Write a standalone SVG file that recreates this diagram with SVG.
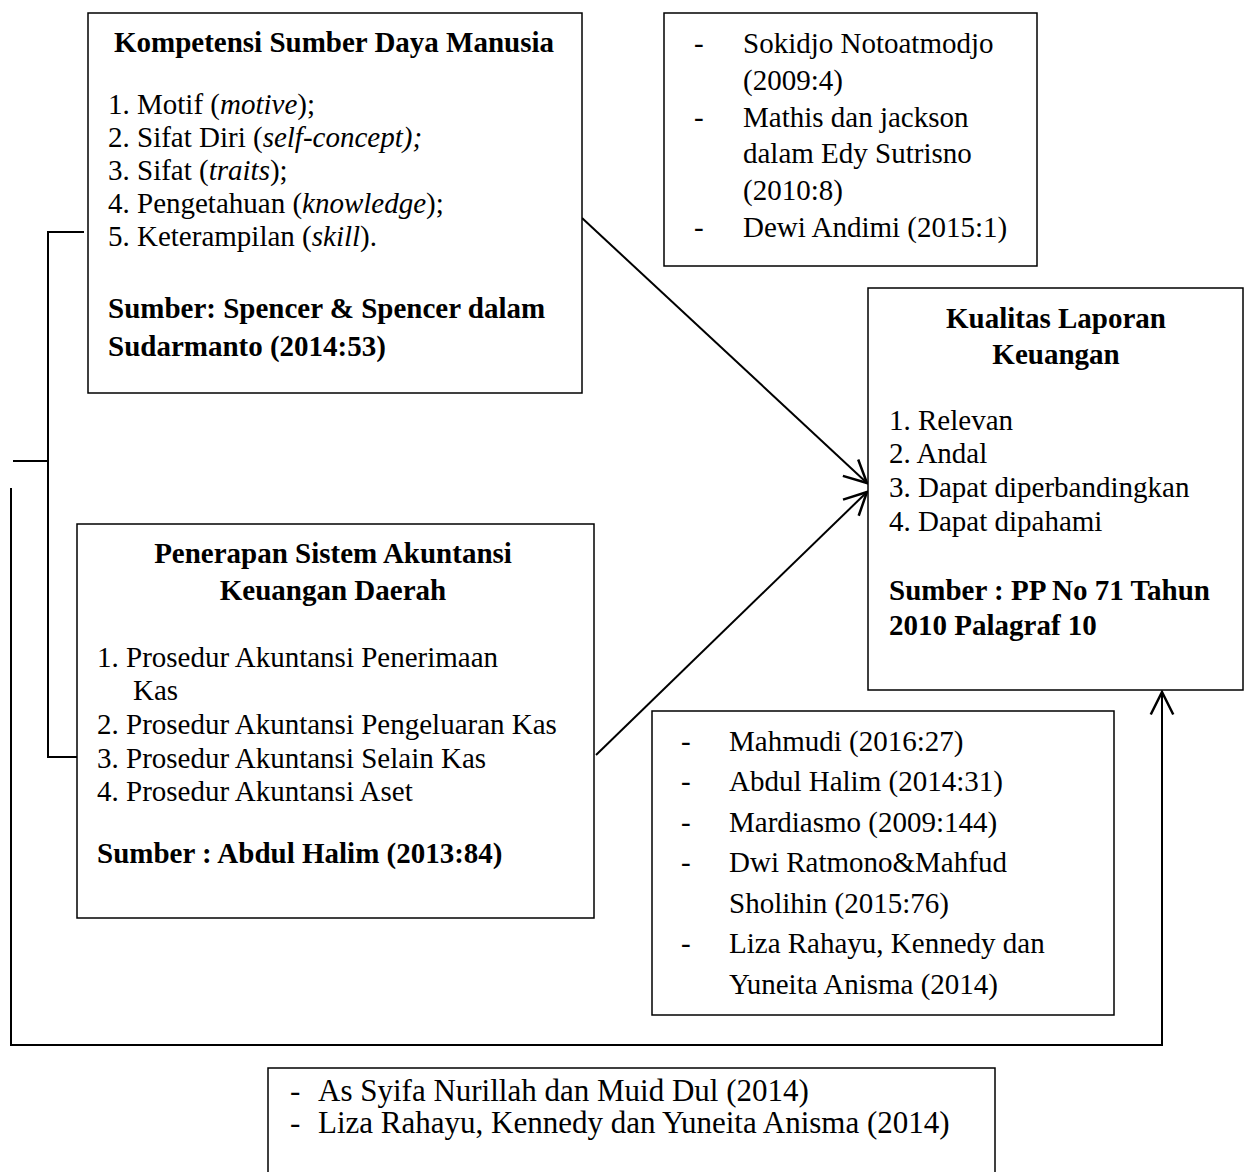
<svg xmlns="http://www.w3.org/2000/svg" width="1249" height="1172" viewBox="0 0 1249 1172">
<style>
.box{fill:#fff;stroke:#000;stroke-width:1.5}
.t{font-family:"Liberation Serif","Times New Roman",serif;font-size:29px;fill:#000}
.s{font-size:31px}
.b{font-weight:bold}
.c{text-anchor:middle}
.i{font-style:italic}
.conn{stroke:#000;stroke-width:2;fill:none}
</style>
<defs>
<marker id="arr" markerUnits="userSpaceOnUse" markerWidth="30" markerHeight="30" viewBox="-20 -12 22 24" refX="0" refY="0" orient="auto">
<path d="M-18,-9 L0,0 L-18,9" fill="none" stroke="#000" stroke-width="2"/>
</marker>
</defs>
<rect width="1249" height="1172" fill="#fff"/>

<g id="connectors">
<polyline class="conn" points="84,232 48,232 48,757 77,757"/>
<line class="conn" x1="13" y1="461" x2="48" y2="461"/>
<polyline class="conn" points="11,488 11,1045 1162,1045 1162,692" marker-end="url(#arr)"/>
<line class="conn" x1="582" y1="218" x2="867" y2="483" marker-end="url(#arr)"/>
<line class="conn" x1="596" y1="755" x2="867" y2="492" marker-end="url(#arr)"/>
</g>

<g id="kompetensi">
<rect class="box" x="88" y="13" width="494" height="380"/>
<text class="t b c" x="334" y="52">Kompetensi Sumber Daya Manusia</text>
<text class="t" x="108" y="114">1. Motif (<tspan class="i">motive</tspan>);</text>
<text class="t" x="108" y="147">2. Sifat Diri (<tspan class="i">self-concept);</tspan></text>
<text class="t" x="108" y="180">3. Sifat (<tspan class="i">traits</tspan>);</text>
<text class="t" x="108" y="213">4. Pengetahuan (<tspan class="i">knowledge</tspan>);</text>
<text class="t" x="108" y="246">5. Keterampilan (<tspan class="i">skill</tspan>).</text>
<text class="t b" x="108" y="318">Sumber: Spencer &amp; Spencer dalam</text>
<text class="t b" x="108" y="356">Sudarmanto (2014:53)</text>
</g>

<g id="teori-sdm">
<rect class="box" x="664" y="13" width="373" height="253"/>
<text class="t" x="694" y="53">-</text>
<text class="t" x="743" y="53">Sokidjo Notoatmodjo</text>
<text class="t" x="743" y="90">(2009:4)</text>
<text class="t" x="694" y="127">-</text>
<text class="t" x="743" y="127">Mathis dan jackson</text>
<text class="t" x="743" y="163">dalam Edy Sutrisno</text>
<text class="t" x="743" y="200">(2010:8)</text>
<text class="t" x="694" y="237">-</text>
<text class="t" x="743" y="237">Dewi Andimi (2015:1)</text>
</g>

<g id="kualitas">
<rect class="box" x="868" y="288" width="375" height="402"/>
<text class="t b c" x="1056" y="328">Kualitas Laporan</text>
<text class="t b c" x="1056" y="364">Keuangan</text>
<text class="t" x="889" y="430">1. Relevan</text>
<text class="t" x="889" y="463">2. Andal</text>
<text class="t" x="889" y="497">3. Dapat diperbandingkan</text>
<text class="t" x="889" y="531">4. Dapat dipahami</text>
<text class="t b" x="889" y="600">Sumber : PP No 71 Tahun</text>
<text class="t b" x="889" y="635">2010 Palagraf 10</text>
</g>

<g id="penerapan">
<rect class="box" x="77" y="524" width="517" height="394"/>
<text class="t b c" x="333" y="563">Penerapan Sistem Akuntansi</text>
<text class="t b c" x="333" y="600">Keuangan Daerah</text>
<text class="t" x="97" y="667">1. Prosedur Akuntansi Penerimaan</text>
<text class="t" x="133" y="700">Kas</text>
<text class="t" x="97" y="734">2. Prosedur Akuntansi Pengeluaran Kas</text>
<text class="t" x="97" y="768">3. Prosedur Akuntansi Selain Kas</text>
<text class="t" x="97" y="801">4. Prosedur Akuntansi Aset</text>
<text class="t b" x="97" y="863">Sumber : Abdul Halim (2013:84)</text>
</g>

<g id="teori-kualitas">
<rect class="box" x="652" y="711" width="462" height="304"/>
<text class="t" x="681" y="751">-</text>
<text class="t" x="729" y="751">Mahmudi (2016:27)</text>
<text class="t" x="681" y="791">-</text>
<text class="t" x="729" y="791">Abdul Halim (2014:31)</text>
<text class="t" x="681" y="832">-</text>
<text class="t" x="729" y="832">Mardiasmo (2009:144)</text>
<text class="t" x="681" y="872">-</text>
<text class="t" x="729" y="872">Dwi Ratmono&amp;Mahfud</text>
<text class="t" x="729" y="913">Sholihin (2015:76)</text>
<text class="t" x="681" y="953">-</text>
<text class="t" x="729" y="953">Liza Rahayu, Kennedy dan</text>
<text class="t" x="729" y="994">Yuneita Anisma (2014)</text>
</g>

<g id="penelitian-terdahulu">
<rect class="box" x="268" y="1068" width="727" height="120"/>
<text class="t s" x="290" y="1101">-</text>
<text class="t s" x="318" y="1101">As Syifa Nurillah dan Muid Dul (2014)</text>
<text class="t s" x="290" y="1133">-</text>
<text class="t s" x="318" y="1133">Liza Rahayu, Kennedy dan Yuneita Anisma (2014)</text>
</g>
</svg>
